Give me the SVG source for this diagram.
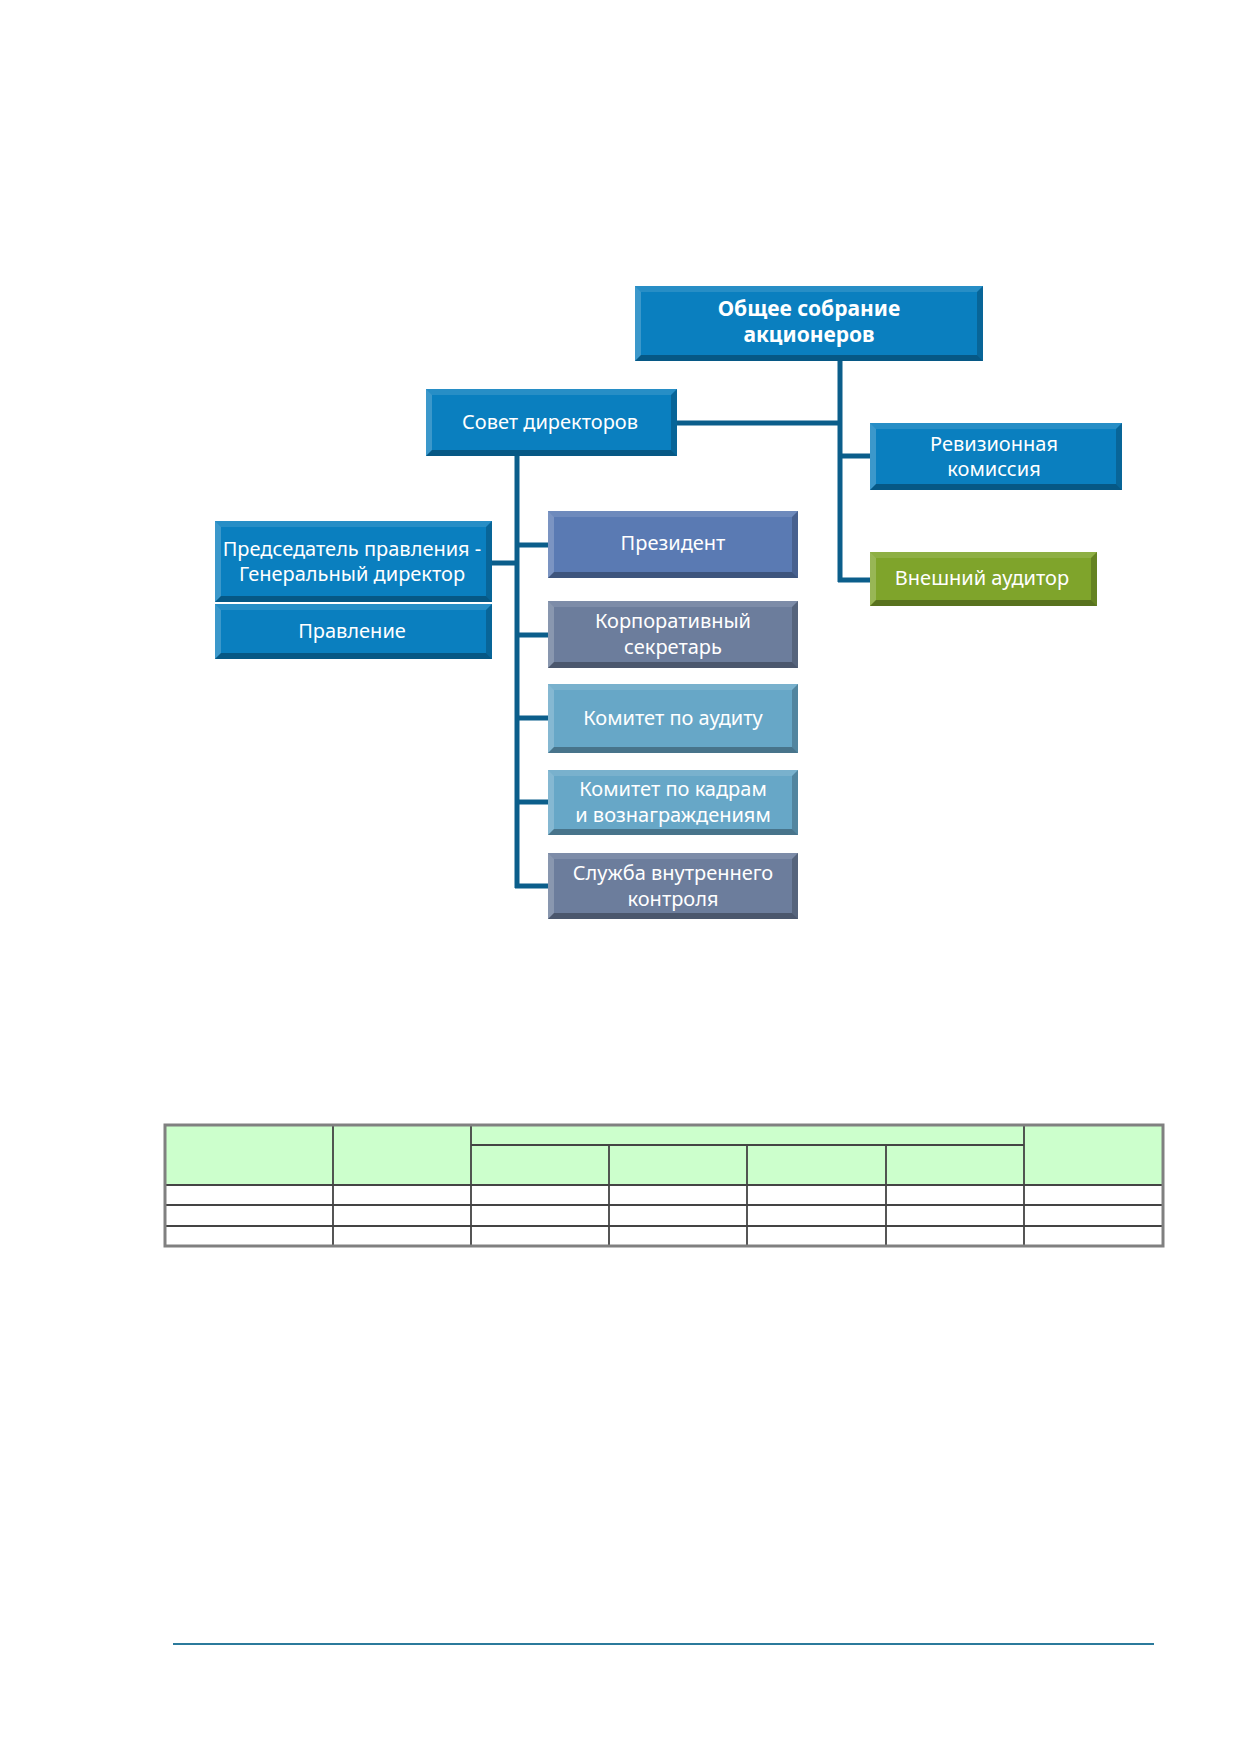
<svg xmlns="http://www.w3.org/2000/svg" width="1239" height="1754" viewBox="0 0 1239 1754">
<style>
.lbl{font-family:"Noto Sans","Open Sans","DejaVu Sans",sans-serif;font-size:20px;fill:#ffffff;text-anchor:middle}
.bold{font-weight:bold;font-size:21px}
.c-blue{fill:#0a7fbf}
.c-pres{fill:#5a7ab3}
.c-gray{fill:#6c7d9c}
.c-light{fill:#67a7c7}
.c-green{fill:#7fa42b}
.bt{fill:#ffffff;opacity:0.12}
.bl{fill:#ffffff;opacity:0.2}
.br{fill:#000000;opacity:0.2}
.bb{fill:#000000;opacity:0.3}
.conn{stroke:#0b5e8b;stroke-width:5;fill:none}
.tbl{stroke:#444444;stroke-width:1.8;fill:none}
</style>
<rect x="0" y="0" width="1239" height="1754" fill="#ffffff"/>

<g id="connectors">
<path class="conn" d="M840 361 V582 M677 423 H842 M840 456 H870 M838 580 H870"/>
<path class="conn" d="M517 456 V888 M515 545 H548 M515 635 H548 M515 718 H548 M515 802 H548 M515 886 H548 M492 563 H519"/>
</g>

<g id="n-general">
<rect class="c-blue" x="635" y="286" width="348" height="75"/>
<polygon class="bt" points="635,286 983,286 977,292 641,292"/>
<polygon class="bl" points="635,286 641,292 641,355 635,361"/>
<polygon class="br" points="983,286 983,361 977,355 977,292"/>
<polygon class="bb" points="635,361 983,361 977,355 641,355"/>
<text class="lbl bold" x="809" y="316">Общее собрание</text>
<text class="lbl bold" x="809" y="342">акционеров</text>
</g>

<g id="n-board">
<rect class="c-blue" x="426" y="389" width="251" height="67"/>
<polygon class="bt" points="426,389 677,389 671,395 432,395"/>
<polygon class="bl" points="426,389 432,395 432,450 426,456"/>
<polygon class="br" points="677,389 677,456 671,450 671,395"/>
<polygon class="bb" points="426,456 677,456 671,450 432,450"/>
<text class="lbl" x="550" y="429">Совет директоров</text>
</g>

<g id="n-audit-comm">
<rect class="c-blue" x="870" y="423" width="252" height="67"/>
<polygon class="bt" points="870,423 1122,423 1116,429 876,429"/>
<polygon class="bl" points="870,423 876,429 876,484 870,490"/>
<polygon class="br" points="1122,423 1122,490 1116,484 1116,429"/>
<polygon class="bb" points="870,490 1122,490 1116,484 876,484"/>
<text class="lbl" x="994" y="451">Ревизионная</text>
<text class="lbl" x="994" y="476">комиссия</text>
</g>

<g id="n-ext-auditor">
<rect class="c-green" x="870" y="552" width="227" height="54"/>
<polygon class="bt" points="870,552 1097,552 1091,558 876,558"/>
<polygon class="bl" points="870,552 876,558 876,600 870,606"/>
<polygon class="br" points="1097,552 1097,606 1091,600 1091,558"/>
<polygon class="bb" points="870,606 1097,606 1091,600 876,600"/>
<text class="lbl" x="982" y="585">Внешний аудитор</text>
</g>

<g id="n-chairman">
<rect class="c-blue" x="215" y="521" width="277" height="81"/>
<polygon class="bt" points="215,521 492,521 486,527 221,527"/>
<polygon class="bl" points="215,521 221,527 221,596 215,602"/>
<polygon class="br" points="492,521 492,602 486,596 486,527"/>
<polygon class="bb" points="215,602 492,602 486,596 221,596"/>
<text class="lbl" x="352" y="556">Председатель правления -</text>
<text class="lbl" x="352" y="581">Генеральный директор</text>
</g>

<g id="n-management">
<rect class="c-blue" x="215" y="604" width="277" height="55"/>
<polygon class="bt" points="215,604 492,604 486,610 221,610"/>
<polygon class="bl" points="215,604 221,610 221,653 215,659"/>
<polygon class="br" points="492,604 492,659 486,653 486,610"/>
<polygon class="bb" points="215,659 492,659 486,653 221,653"/>
<text class="lbl" x="352" y="638">Правление</text>
</g>

<g id="n-president">
<rect class="c-pres" x="548" y="511" width="250" height="67"/>
<polygon class="bt" points="548,511 798,511 792,517 554,517"/>
<polygon class="bl" points="548,511 554,517 554,572 548,578"/>
<polygon class="br" points="798,511 798,578 792,572 792,517"/>
<polygon class="bb" points="548,578 798,578 792,572 554,572"/>
<text class="lbl" x="673" y="550">Президент</text>
</g>

<g id="n-secretary">
<rect class="c-gray" x="548" y="601" width="250" height="67"/>
<polygon class="bt" points="548,601 798,601 792,607 554,607"/>
<polygon class="bl" points="548,601 554,607 554,662 548,668"/>
<polygon class="br" points="798,601 798,668 792,662 792,607"/>
<polygon class="bb" points="548,668 798,668 792,662 554,662"/>
<text class="lbl" x="673" y="628">Корпоративный</text>
<text class="lbl" x="673" y="654">секретарь</text>
</g>

<g id="n-audit-committee">
<rect class="c-light" x="548" y="684" width="250" height="69"/>
<polygon class="bt" points="548,684 798,684 792,690 554,690"/>
<polygon class="bl" points="548,684 554,690 554,747 548,753"/>
<polygon class="br" points="798,684 798,753 792,747 792,690"/>
<polygon class="bb" points="548,753 798,753 792,747 554,747"/>
<text class="lbl" x="673" y="725">Комитет по аудиту</text>
</g>

<g id="n-hr-committee">
<rect class="c-light" x="548" y="770" width="250" height="65"/>
<polygon class="bt" points="548,770 798,770 792,776 554,776"/>
<polygon class="bl" points="548,770 554,776 554,829 548,835"/>
<polygon class="br" points="798,770 798,835 792,829 792,776"/>
<polygon class="bb" points="548,835 798,835 792,829 554,829"/>
<text class="lbl" x="673" y="796">Комитет по кадрам</text>
<text class="lbl" x="673" y="822">и вознаграждениям</text>
</g>

<g id="n-internal-control">
<rect class="c-gray" x="548" y="853" width="250" height="66"/>
<polygon class="bt" points="548,853 798,853 792,859 554,859"/>
<polygon class="bl" points="548,853 554,859 554,913 548,919"/>
<polygon class="br" points="798,853 798,919 792,913 792,859"/>
<polygon class="bb" points="548,919 798,919 792,913 554,913"/>
<text class="lbl" x="673" y="880">Служба внутреннего</text>
<text class="lbl" x="673" y="906">контроля</text>
</g>

<g id="table">
<rect x="165" y="1125" width="998" height="60" fill="#ccffcc"/>
<path class="tbl" d="M471 1145 H1024 M165 1185 H1163 M165 1205 H1163 M165 1226 H1163 M333 1125 V1246 M471 1125 V1246 M609 1145 V1246 M747 1145 V1246 M886 1145 V1246 M1024 1125 V1246"/>
<rect x="165" y="1125" width="998" height="121" fill="none" stroke="#808080" stroke-width="3"/>
</g>

<line x1="173" y1="1644" x2="1154" y2="1644" stroke="#2b7a9c" stroke-width="2"/>
</svg>
